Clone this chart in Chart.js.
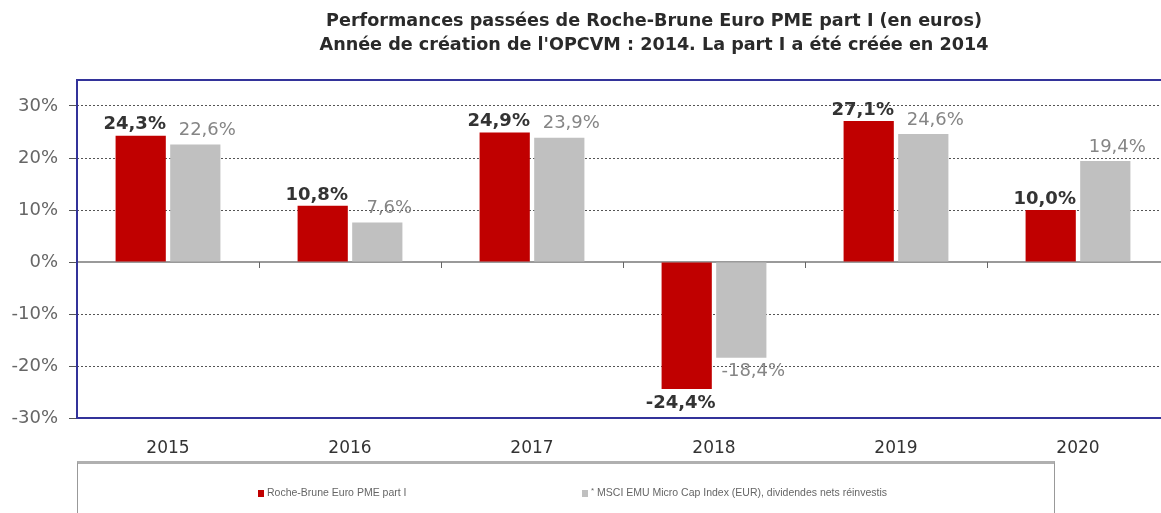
<!DOCTYPE html>
<html>
<head>
<meta charset="utf-8">
<script src="https://cdn.jsdelivr.net/npm/chart.js@4/dist/chart.umd.min.js"></script>
<style>
  html, body { margin: 0; padding: 0; background: #fff; overflow: hidden; }
  #wrap { position: relative; width: 1170px; height: 513px; }
  #title {
    position: absolute; left: 0; width: 1308px; top: 8px; text-align: center; white-space: nowrap;
    font-family: "DejaVu Sans", Verdana, sans-serif; font-weight: bold; font-size: 17.6px; line-height: 24px; color: #2a2a2a;
  }
  #legend {
    position: absolute; left: 77px; top: 461px; width: 978px; height: 60px;
    border-top: 3px solid #b0b0b0; border-left: 1px solid #999; border-right: 1px solid #999;
    box-sizing: border-box;
    font-family: "Liberation Sans", Arial, sans-serif; font-size: 10.5px; color: #666;
  }
  .item { position: absolute; top: 22px; white-space: nowrap; line-height: 12px; }
  .sq { display: inline-block; width: 6px; height: 7px; margin-right: 3px; vertical-align: -1px; }
  .star { position: relative; top: -3px; font-size: 8px; }
</style>
</head>
<body>
<div id="wrap">
  <canvas id="chart" width="1170" height="513"></canvas>
  <div id="title">Performances passées de Roche-Brune Euro PME part I (en euros)<br>Année de création de l'OPCVM : 2014. La part I a été créée en 2014</div>
  <div id="legend">
    <span class="item" style="left:180px"><span class="sq" style="background:#c00000"></span>Roche-Brune Euro PME part I</span>
    <span class="item" style="left:504px"><span class="sq" style="background:#c0c0c0"></span><span class="star">*</span> MSCI EMU Micro Cap Index (EUR), dividendes nets réinvestis</span>
  </div>
</div>
<script>
// Données
const years = ['2015', '2016', '2017', '2018', '2019', '2020'];
const fundValues = [24.3, 10.8, 24.9, -24.4, 27.1, 10.0];
const indexValues = [22.6, 7.6, 23.9, -18.4, 24.6, 19.4];
const yTicks = [-30, -20, -10, 0, 10, 20, 30];

const fmt = v => v.toFixed(1).replace('.', ',') + '%';
const FONT = '"DejaVu Sans", Verdana, sans-serif';

// Cadre bleu, ligne du zéro et étiquettes de valeurs
const decorations = {
    id: 'decorations',
    beforeDatasetsDraw(chart) {
        const { ctx, chartArea: a, scales } = chart;
        const y0 = scales.y.getPixelForValue(0);
        ctx.save();
        ctx.strokeStyle = '#9a9a9a';
        ctx.lineWidth = 2;
        ctx.beginPath();
        ctx.moveTo(a.left, y0);
        ctx.lineTo(a.right, y0);
        ctx.stroke();
        ctx.lineWidth = 1;
        ctx.strokeStyle = '#666';
        for (let i = 0; i < years.length - 1; i++) {
            const x = Math.round((scales.x.getPixelForValue(i) + scales.x.getPixelForValue(i + 1)) / 2) + 0.5;
            ctx.beginPath();
            ctx.moveTo(x, y0);
            ctx.lineTo(x, y0 + 6);
            ctx.stroke();
        }
        ctx.restore();
    },
    afterDatasetsDraw(chart) {
        const { ctx, chartArea: a } = chart;
        ctx.save();
        ctx.strokeStyle = '#33339a';
        ctx.lineWidth = 2;
        ctx.beginPath();
        ctx.moveTo(a.right + 5, a.top);
        ctx.lineTo(a.left, a.top);
        ctx.lineTo(a.left, a.bottom);
        ctx.lineTo(a.right + 5, a.bottom);
        ctx.stroke();

        // étiquettes : fonds décalé à gauche, indice décalé à droite
        ctx.textAlign = 'center';
        chart.data.datasets.forEach((ds, di) => {
            const meta = chart.getDatasetMeta(di);
            const dx = di === 0 ? -6 : 12;
            ctx.font = (di === 0 ? 'bold ' : '') + '18px ' + FONT;
            ctx.fillStyle = di === 0 ? '#333' : '#858585';
            meta.data.forEach((bar, i) => {
                const v = ds.data[i];
                if (v >= 0) {
                    ctx.textBaseline = 'bottom';
                    ctx.fillText(fmt(v), bar.x + dx, bar.y - (di === 0 ? 2 : 5));
                } else {
                    ctx.textBaseline = 'top';
                    ctx.fillText(fmt(v), bar.x + dx, bar.y + 5);
                }
            });
        });
        ctx.restore();
    }
};

new Chart(document.getElementById('chart'), {
    type: 'bar',
    data: {
        labels: years,
        datasets: [
            { label: 'Roche-Brune Euro PME part I', data: fundValues, backgroundColor: '#c00000' },
            { label: '* MSCI EMU Micro Cap Index (EUR), dividendes nets réinvestis', data: indexValues, backgroundColor: '#c0c0c0' }
        ]
    },
    options: {
        responsive: false,
        animation: false,
        datasets: { bar: { categoryPercentage: 0.6, barPercentage: 0.92 } },
        layout: { padding: { top: 80, right: 1, bottom: 50, left: 0 } },
        plugins: {
            legend: { display: false },
            tooltip: { enabled: false },
            title: { display: false }
        },
        scales: {
            x: {
                grid: { display: false },
                border: { display: false },
                ticks: { color: '#333', padding: 12, font: { family: FONT, size: 17 } },
                afterFit(scale) { scale.height = 45; }
            },
            y: {
                min: -30,
                max: 35,
                afterBuildTicks(scale) { scale.ticks = yTicks.map(v => ({ value: v })); },
                afterFit(scale) { scale.width = 77; },
                grid: { color: '#555', lineWidth: 1, tickLength: 8 },
                border: { display: false, dash: [2, 2] },
                ticks: {
                    color: '#666',
                    padding: 11,
                    font: { family: FONT, size: 18 },
                    callback: v => v + '%'
                }
            }
        }
    },
    plugins: [decorations]
});
</script>
</body>
</html>
